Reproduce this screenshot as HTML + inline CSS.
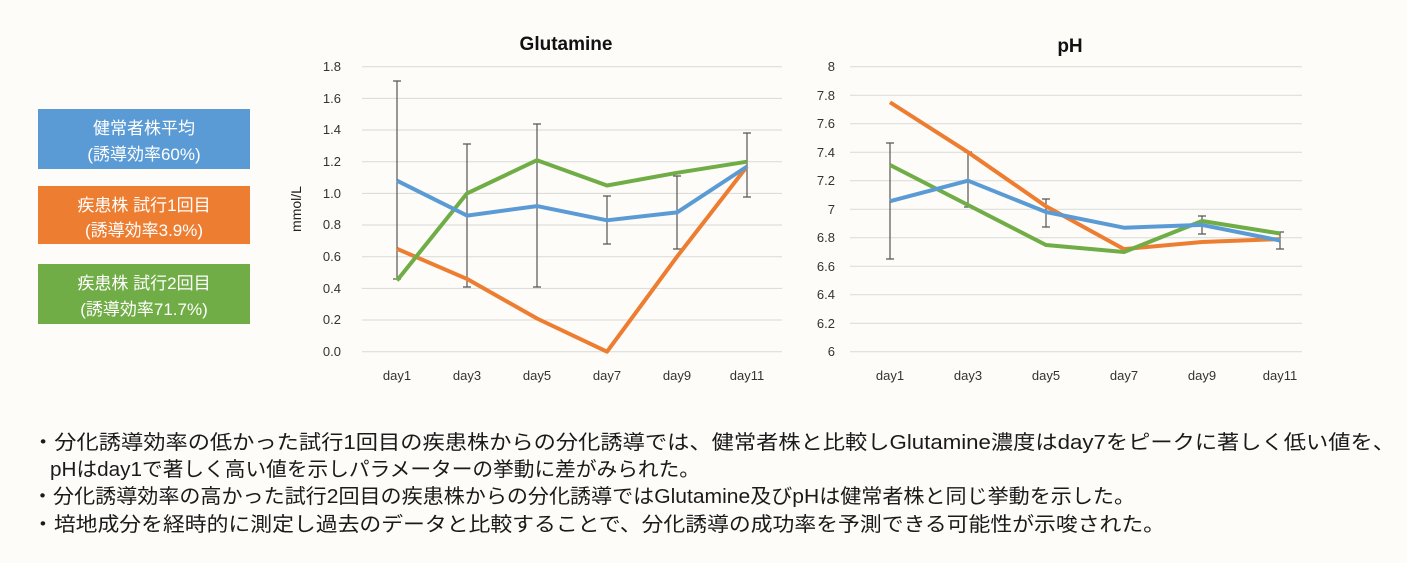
<!DOCTYPE html>
<html><head><meta charset="utf-8"><style>
html,body{margin:0;padding:0;background:#fdfcf8;}
svg{display:block;}
text{font-family:"Liberation Sans","Noto Sans CJK JP",sans-serif;}
</style></head><body>
<svg width="1407" height="563" viewBox="0 0 1407 563" xmlns="http://www.w3.org/2000/svg">
<rect width="1407" height="563" fill="#fdfcf8"/>
<!-- legend boxes -->
<rect x="38" y="109" width="212" height="60" fill="#5b9bd5"/>
<text x="144" y="134" text-anchor="middle" font-size="17" fill="#fff">健常者株平均</text>
<text x="144" y="160" text-anchor="middle" font-size="17" fill="#fff">(誘導効率60%)</text>
<rect x="38" y="186" width="212" height="58" fill="#ed7d31"/>
<text x="144" y="211" text-anchor="middle" font-size="17" fill="#fff">疾患株 試行1回目</text>
<text x="144" y="236" text-anchor="middle" font-size="17" fill="#fff">(誘導効率3.9%)</text>
<rect x="38" y="264" width="212" height="60" fill="#70ad47"/>
<text x="144" y="289" text-anchor="middle" font-size="17" fill="#fff">疾患株 試行2回目</text>
<text x="144" y="315" text-anchor="middle" font-size="17" fill="#fff">(誘導効率71.7%)</text>

<!-- Glutamine chart -->
<text x="566" y="50" text-anchor="middle" font-size="19" font-weight="bold" fill="#111">Glutamine</text>
<g stroke="#d9d9d9" stroke-width="1">
<line x1="362" x2="782" y1="66.7" y2="66.7"/><line x1="362" x2="782" y1="98.4" y2="98.4"/><line x1="362" x2="782" y1="130" y2="130"/><line x1="362" x2="782" y1="161.7" y2="161.7"/><line x1="362" x2="782" y1="193.4" y2="193.4"/><line x1="362" x2="782" y1="225" y2="225"/><line x1="362" x2="782" y1="256.7" y2="256.7"/><line x1="362" x2="782" y1="288.4" y2="288.4"/><line x1="362" x2="782" y1="320" y2="320"/><line x1="362" x2="782" y1="351.7" y2="351.7"/>
</g>
<g font-size="13" fill="#333" text-anchor="end">
<text x="341" y="71">1.8</text><text x="341" y="103">1.6</text><text x="341" y="134">1.4</text><text x="341" y="166">1.2</text><text x="341" y="198">1.0</text><text x="341" y="229">0.8</text><text x="341" y="261">0.6</text><text x="341" y="293">0.4</text><text x="341" y="324">0.2</text><text x="341" y="356">0.0</text>
</g>
<text transform="translate(301,209) rotate(-90)" text-anchor="middle" font-size="14" fill="#222">mmol/L</text>
<g font-size="13" fill="#333" text-anchor="middle">
<text x="397" y="380">day1</text><text x="467" y="380">day3</text><text x="537" y="380">day5</text><text x="607" y="380">day7</text><text x="677" y="380">day9</text><text x="747" y="380">day11</text>
</g>
<g stroke="#555" stroke-width="1.2" fill="none">
<path d="M397 81V279M393 81h8M393 279h8"/>
<path d="M467 144V287M463 144h8M463 287h8"/>
<path d="M537 124V287M533 124h8M533 287h8"/>
<path d="M607 196V244M603 196h8M603 244h8"/>
<path d="M677 176V249M673 176h8M673 249h8"/>
<path d="M747 133V197M743 133h8M743 197h8"/>
</g>
<g fill="none" stroke-width="4" stroke-linejoin="round">
<polyline stroke="#ed7d31" points="397,248.8 467,278.9 537,318.5 607,351.7 677,256.7 747,166.5"/>
<polyline stroke="#70ad47" points="397,280.5 467,193.4 537,160.2 607,185.5 677,172.8 747,161.7"/>
<polyline stroke="#5b9bd5" points="397,180.7 467,215.6 537,206.1 607,220.3 677,212.4 747,166.5"/>
</g>

<!-- pH chart -->
<text x="1070" y="52" text-anchor="middle" font-size="19" font-weight="bold" fill="#111">pH</text>
<g stroke="#d9d9d9" stroke-width="1">
<line x1="850" x2="1302" y1="66.7" y2="66.7"/><line x1="850" x2="1302" y1="95.2" y2="95.2"/><line x1="850" x2="1302" y1="123.7" y2="123.7"/><line x1="850" x2="1302" y1="152.2" y2="152.2"/><line x1="850" x2="1302" y1="180.7" y2="180.7"/><line x1="850" x2="1302" y1="209.2" y2="209.2"/><line x1="850" x2="1302" y1="237.7" y2="237.7"/><line x1="850" x2="1302" y1="266.2" y2="266.2"/><line x1="850" x2="1302" y1="294.7" y2="294.7"/><line x1="850" x2="1302" y1="323.2" y2="323.2"/><line x1="850" x2="1302" y1="351.7" y2="351.7"/>
</g>
<g font-size="13" fill="#333" text-anchor="end">
<text x="835" y="71">8</text><text x="835" y="100">7.8</text><text x="835" y="128">7.6</text><text x="835" y="157">7.4</text><text x="835" y="185">7.2</text><text x="835" y="214">7</text><text x="835" y="242">6.8</text><text x="835" y="271">6.6</text><text x="835" y="299">6.4</text><text x="835" y="328">6.2</text><text x="835" y="356">6</text>
</g>
<g font-size="13" fill="#333" text-anchor="middle">
<text x="890" y="380">day1</text><text x="968" y="380">day3</text><text x="1046" y="380">day5</text><text x="1124" y="380">day7</text><text x="1202" y="380">day9</text><text x="1280" y="380">day11</text>
</g>
<g stroke="#555" stroke-width="1.2" fill="none">
<path d="M890 143V259M886 143h8M886 259h8"/>
<path d="M968 152V207M964 152h8M964 207h8"/>
<path d="M1046 199V227M1042 199h8M1042 227h8"/>
<path d="M1202 216V234M1198 216h8M1198 234h8"/>
<path d="M1280 232V249M1276 232h8M1276 249h8"/>
</g>
<g fill="none" stroke-width="4" stroke-linejoin="round">
<polyline stroke="#ed7d31" points="890,102.3 968,152.2 1046,206.3 1124,249.1 1202,242 1280,239.1"/>
<polyline stroke="#70ad47" points="890,165 968,205 1046,245 1124,252 1202,221 1280,233.5"/>
<polyline stroke="#5b9bd5" points="890,201.2 968,180.7 1046,212 1124,227.7 1202,224.9 1280,240.5"/>
</g>

<!-- bottom text -->
<g font-size="20" fill="#1a1a1a">
<text x="32" y="449" textLength="1363" lengthAdjust="spacingAndGlyphs">・分化誘導効率の低かった試行1回目の疾患株からの分化誘導では、健常者株と比較しGlutamine濃度はday7をピークに著しく低い値を、</text>
<text x="50" y="476" textLength="650" lengthAdjust="spacingAndGlyphs">pHはday1で著しく高い値を示しパラメーターの挙動に差がみられた。</text>
<text x="32" y="503" textLength="1103" lengthAdjust="spacingAndGlyphs">・分化誘導効率の高かった試行2回目の疾患株からの分化誘導ではGlutamine及びpHは健常者株と同じ挙動を示した。</text>
<text x="32" y="531" textLength="1133" lengthAdjust="spacingAndGlyphs">・培地成分を経時的に測定し過去のデータと比較することで、分化誘導の成功率を予測できる可能性が示唆された。</text>
</g>
</svg>
</body></html>
